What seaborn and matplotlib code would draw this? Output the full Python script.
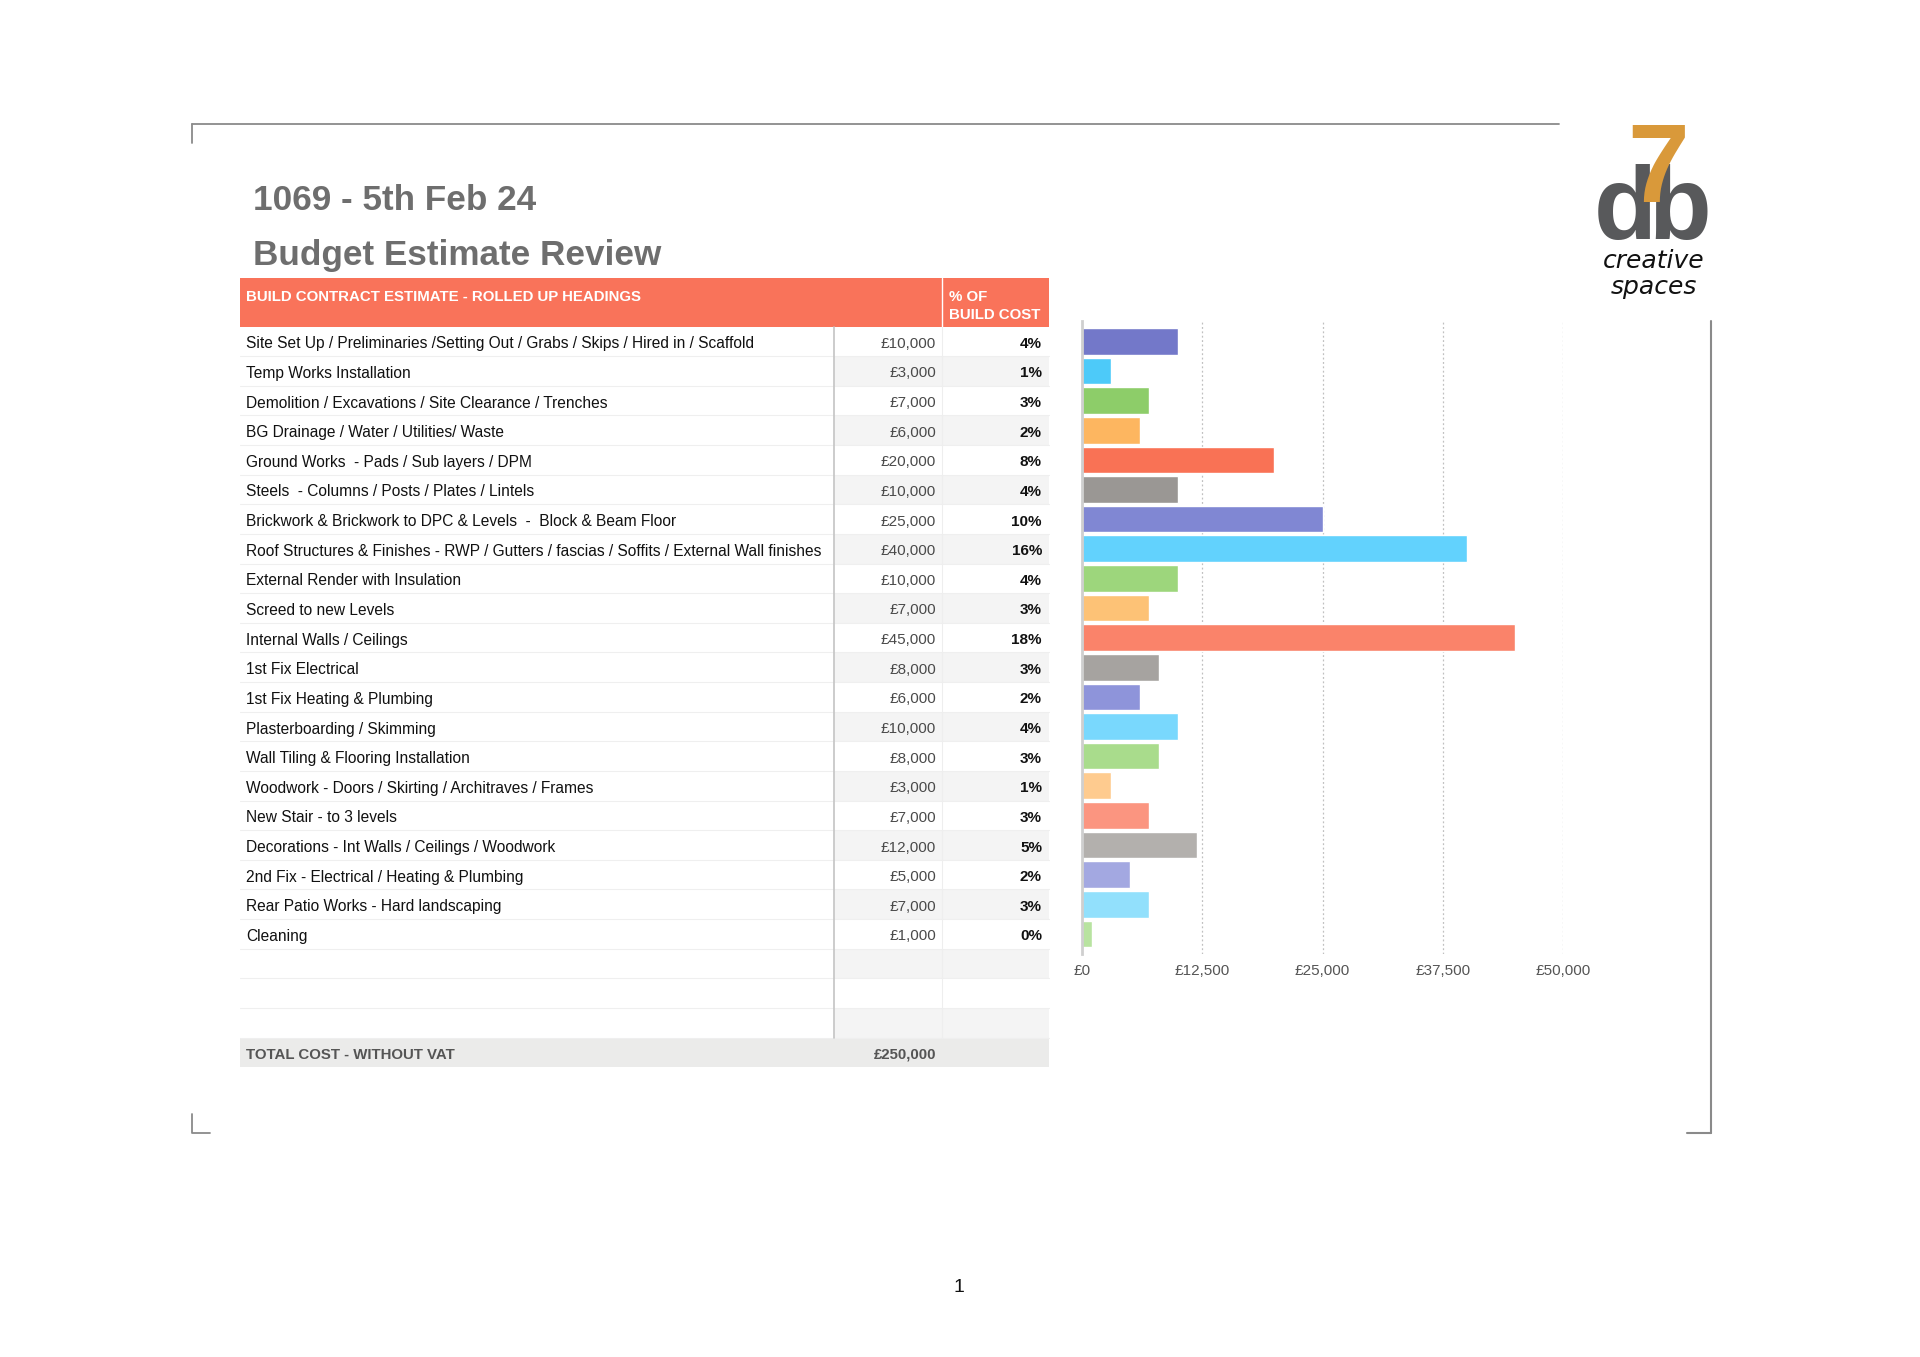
import matplotlib
matplotlib.use("Agg")
import matplotlib.pyplot as plt
from matplotlib.patches import Rectangle
import seaborn as sns

# dati della tabella
descrizioni = [
    "Site Set Up / Preliminaries /Setting Out / Grabs / Skips / Hired in / Scaffold",
    "Temp Works Installation",
    "Demolition / Excavations / Site Clearance / Trenches",
    "BG Drainage / Water / Utilities/ Waste",
    "Ground Works  - Pads / Sub layers / DPM",
    "Steels  - Columns / Posts / Plates / Lintels",
    "Brickwork & Brickwork to DPC & Levels  -  Block & Beam Floor",
    "Roof Structures & Finishes - RWP / Gutters / fascias / Soffits / External Wall finishes",
    "External Render with Insulation",
    "Screed to new Levels",
    "Internal Walls / Ceilings",
    "1st Fix Electrical",
    "1st Fix Heating & Plumbing",
    "Plasterboarding / Skimming",
    "Wall Tiling & Flooring Installation",
    "Woodwork - Doors / Skirting / Architraves / Frames",
    "New Stair - to 3 levels",
    "Decorations - Int Walls / Ceilings / Woodwork",
    "2nd Fix - Electrical / Heating & Plumbing",
    "Rear Patio Works - Hard landscaping",
    "Cleaning",
]
importi = [10000, 3000, 7000, 6000, 20000, 10000, 25000, 40000, 10000, 7000,
           45000, 8000, 6000, 10000, 8000, 3000, 7000, 12000, 5000, 7000, 1000]
percentuali = [4, 1, 3, 2, 8, 4, 10, 16, 4, 3, 18, 3, 2, 4, 3, 1, 3, 5, 2, 3, 0]
totale = 250000
tick_valori = [0, 12500, 25000, 37500, 50000]
colori_barre = ["#7378c9", "#4dcaf9", "#8dcd69", "#fdb660", "#f97255", "#9a9794",
                "#8087d3", "#62d2fd", "#9dd67c", "#fdc276", "#fa836a", "#a6a3a0",
                "#8e94da", "#79d8fd", "#a9dc8c", "#fecb8f", "#fb9580", "#b3b0ad",
                "#a3a8e1", "#92e0fc", "#b8e3a0"]

sns.set_theme(style="white")
plt.rcParams["font.family"] = ["Liberation Sans", "DejaVu Sans"]

W, H = 1920, 1357
fig = plt.figure(figsize=(W / 100, H / 100), dpi=100)
fig.patch.set_facecolor("white")

# pagina in coordinate pixel
pg = fig.add_axes([0, 0, 1, 1])
pg.set_xlim(0, W)
pg.set_ylim(H, 0)
pg.axis("off")

bordo = "#8a8a8a"
pg.plot([192, 1559], [124, 124], color=bordo, lw=1.3)
pg.plot([192, 192], [124, 143], color=bordo, lw=1.3)
pg.plot([192, 192, 210], [1114, 1133, 1133], color=bordo, lw=1.3)
pg.plot([1710.5, 1710.5], [321, 1133], color=bordo, lw=1.5)
pg.plot([1687, 1710.5], [1133, 1133], color=bordo, lw=1.5)

# titoli
grigio_titolo = "#6e6e6e"
pg.text(253, 210, "1069 - 5th Feb 24", fontsize=25.3, fontweight="bold",
        color=grigio_titolo, va="baseline")
pg.text(253, 265, "Budget Estimate Review", fontsize=25.3, fontweight="bold",
        color=grigio_titolo, va="baseline")

# tabella
x0, x_amt, x_pct, x1 = 240, 834, 942, 1049
head_top, head_bot = 278, 326.5
row_h = 29.63
n_vuote = 3
fs = 11

pg.add_patch(Rectangle((x0, head_top), x1 - x0, head_bot - head_top,
                       color="#f9735a", lw=0))
pg.plot([x_pct, x_pct], [head_top, head_bot], color="white", lw=1)
pg.text(246, 295.5, "BUILD CONTRACT ESTIMATE - ROLLED UP HEADINGS", fontsize=10.8,
        fontweight="bold", color="white", va="center_baseline")
pg.text(949, 295.5, "% OF", fontsize=10.8, fontweight="bold", color="white",
        va="center_baseline")
pg.text(949, 313.5, "BUILD COST", fontsize=10.8, fontweight="bold", color="white",
        va="center_baseline")

n_righe = len(descrizioni) + n_vuote
for i in range(n_righe):
    top = head_bot + i * row_h
    if i % 2 == 1:
        pg.add_patch(Rectangle((x_amt, top), x1 - x_amt, row_h, color="#f4f4f4", lw=0))
    pg.plot([x0, x1], [top + row_h, top + row_h], color="#efefef", lw=0.8)
    if i < len(descrizioni):
        yc = top + row_h / 2 + 1
        pg.text(246, yc, descrizioni[i], fontsize=11.2, color="#111111",
                va="center_baseline")
        pg.text(936, yc, "£{:,}".format(importi[i]), fontsize=fs, color="#4a4a4a",
                va="center_baseline", ha="right")
        pg.text(1042, yc, "{}%".format(percentuali[i]), fontsize=fs,
                fontweight="bold", color="#111111", va="center_baseline", ha="right")

tab_bot = head_bot + n_righe * row_h
pg.plot([x_amt, x_amt], [head_bot, tab_bot], color="#c4c4c4", lw=1.2)
pg.plot([x_pct, x_pct], [head_bot, tab_bot], color="#eeeeee", lw=0.8)

pg.add_patch(Rectangle((x0, tab_bot), x1 - x0, row_h, color="#ebebea", lw=0))
pg.text(246, tab_bot + row_h / 2 + 1, "TOTAL COST - WITHOUT VAT", fontsize=10.8,
        fontweight="bold", color="#555555", va="center_baseline")
pg.text(936, tab_bot + row_h / 2 + 1, "£{:,}".format(totale), fontsize=10.8,
        fontweight="bold", color="#555555", va="center_baseline", ha="right")

# logo
pg.text(1657, 239, "d", fontsize=74, fontweight="bold", color="#58595b",
        ha="right", va="baseline")
pg.text(1648, 239, "b", fontsize=74, fontweight="bold", color="#58595b",
        ha="left", va="baseline")
pg.text(1658, 202, "7", fontsize=80, fontweight="bold", color="#d9993a",
        ha="center", va="baseline")
pg.text(1654, 268, "creative", fontsize=18, style="italic", color="#111111",
        ha="center", va="baseline", family="DejaVu Sans")
pg.text(1654, 294, "spaces", fontsize=18, style="italic", color="#111111",
        ha="center", va="baseline", family="DejaVu Sans")

pg.text(959, 1288, "1", fontsize=14, color="#111111", ha="center", va="center")

# grafico a barre
ax_top, ax_bot = 321, 954
ax_left, ax_right = 1082, 1563
ax = fig.add_axes([ax_left / W, 1 - ax_bot / H, (ax_right - ax_left) / W,
                   (ax_bot - ax_top) / H])
ax.patch.set_alpha(0)
sns.barplot(x=importi, y=descrizioni, hue=descrizioni, palette=colori_barre,
            orient="h", width=0.9, saturation=1, legend=False, ax=ax)
c1 = head_bot + row_h / 2
ax.set_ylim((ax_bot - c1) / row_h, (ax_top - c1) / row_h)
ax.set_xlim(0, 50000)
ax.set_xticks(tick_valori)
ax.set_xticklabels(["£{:,}".format(v) for v in tick_valori], fontsize=11, color="#555555")
ax.set_yticks([])
ax.set_xlabel("")
ax.set_ylabel("")
ax.tick_params(axis="x", length=0, pad=7)
for v in tick_valori[1:]:
    ax.axvline(v, color="#c0c0c0", lw=0.9, ls=(0, (1.5, 2)), zorder=0)
for s in ["top", "right", "bottom"]:
    ax.spines[s].set_visible(False)
ax.spines["left"].set_color("#cfcfcf")
ax.spines["left"].set_linewidth(2)

fig.savefig("out.png", dpi=100)
